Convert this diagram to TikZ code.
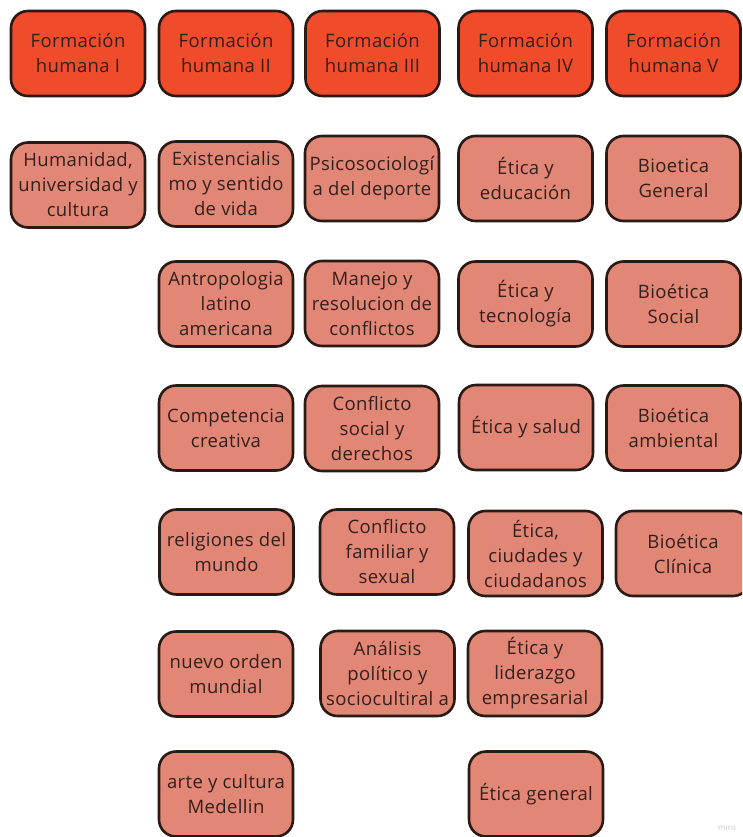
\documentclass[tikz,border=0pt]{standalone}
\usepackage{fontspec}
\setmainfont{Open Sans}[LetterSpace=2]
\usetikzlibrary{positioning}
\definecolor{headred}{HTML}{F04B2A}
\definecolor{coursepink}{HTML}{E28676}
\definecolor{edgebrown}{HTML}{2A1A16}
\definecolor{ink}{HTML}{33201C}
\tikzset{
every node/.style={align=center},
semester/.style={rectangle, rounded corners=17pt, draw=edgebrown, line width=2.6pt,
  fill=headred, text=ink, minimum width=134pt, minimum height=85pt, inner sep=1pt,
  font=\fontsize{18.5}{25}\selectfont},
course/.style={semester, fill=coursepink},
}
\begin{document}
\begin{tikzpicture}[x=1pt, y=-1pt]
\useasboundingbox (0,0) rectangle (742,837);
\clip (0,0) rectangle (742,837);
% semestres
\node (fh1) [semester] at (78,53.5) {Formación\\humana I};
\node (fh2) [semester] at (226,53.5) {Formación\\humana II};
\node (fh3) [semester] at (372.5,53.5) {Formación\\humana III};
\node (fh4) [semester] at (525.5,53.5) {Formación\\humana IV};
\node (fh5) [semester] at (673.5,53.5) {Formación\\humana V};
% fila 1
\node (hum) [course] at (78,185) {Humanidad,\\universidad y\\cultura};
\node (exis) [course] at (226,184) {Existencialis\\mo y sentido\\de vida};
\node (psico) [course] at (372,178.5) {Psicosociologí\\a del deporte};
\node (eedu) [course] at (525.5,178.5) {Ética y\\educación};
\node (bgen) [course] at (673.5,178.5) {Bioetica\\General};
% fila 2
\node (antro) [course] at (226,304) {Antropologia\\latino\\americana};
\node (manejo) [course] at (372,303.5) {Manejo y\\resolucion de\\conflictos};
\node (etec) [course] at (525.5,304) {Ética y\\tecnología};
\node (bsoc) [course] at (673.5,304) {Bioética\\Social};
% fila 3
\node (compe) [course] at (226,428) {Competencia\\creativa};
\node (csoc) [course] at (372,428.5) {Conflicto\\social y\\derechos};
\node (esal) [course] at (526,427.5) {Ética y salud};
\node (bamb) [course] at (673.5,428) {Bioética\\ambiental};
% fila 4
\node (relig) [course] at (226.5,552) {religiones del\\mundo};
\node (cfam) [course] at (387,552) {Conflicto\\familiar y\\sexual};
\node (eciu) [course] at (535.5,553.5) {Ética,\\ciudades y\\ciudadanos};
\node (bcli) [course] at (683,553.5) {Bioética\\Clínica};
% fila 5
\node (orden) [course] at (226,674) {nuevo orden\\mundial};
\node (anal) [course] at (387.5,673.5) {Análisis\\político y\\sociocultiral a};
\node (elid) [course] at (535,673.5) {Ética y\\liderazgo\\empresarial};
% fila 6
\node (arte) [course] at (226,794) {arte y cultura\\Medellin};
\node (egen) [course] at (536,794) {Ética general};
\node (miro) [text=gray!45, font=\fontsize{8}{9}\selectfont] at (727,828) {miro};
\end{tikzpicture}
\end{document}
